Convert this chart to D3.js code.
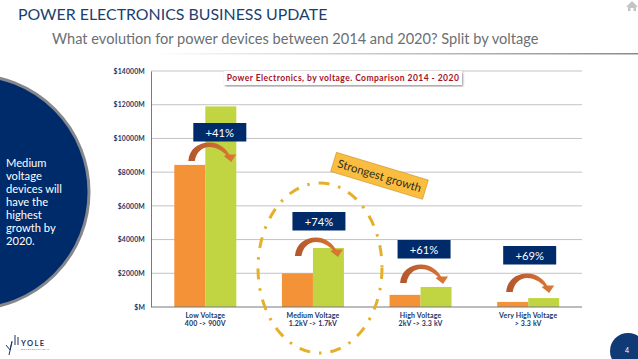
<!DOCTYPE html>
<html>
<head>
<meta charset="utf-8">
<script src="https://cdn.jsdelivr.net/npm/d3@7"></script>
<style>
  html, body { margin: 0; padding: 0; background: #fff; overflow: hidden; }
  text { font-family: Lato, "Open Sans", sans-serif; }
  .tick-label { font-weight: 700; fill: #1c3565; font-size: 6.8px; }
  .cat-label { font-weight: 700; fill: #1c3565; font-size: 7px; letter-spacing: 0.15px; }
</style>
</head>
<body>
<div id="chart"></div>
<script>
// data
const categories = ['Low Voltage', 'Medium Voltage', 'High Voltage', 'Very High Voltage'];
const subLabels = ['400 -> 900V', '1.2kV -> 1.7kV', '2kV -> 3.3 kV', '> 3.3 kV'];
const values2014 = [8430, 2000, 720, 300];
const values2020 = [11900, 3500, 1190, 530];
const growthLabels = ['+41%', '+74%', '+61%', '+69%'];
const yTicks = [0, 2000, 4000, 6000, 8000, 10000, 12000, 14000];
const sideText = ['Medium', 'voltage', 'devices will', 'have the', 'highest', 'growth by', '2020.'];

const NAVY = '#002b6b';
const ORANGE = '#f39237';
const GREEN = '#c1d542';
const WIDTH = 638;
const HEIGHT = 359;

const $svg = d3.select('#chart').append('svg')
  .attr('width', WIDTH)
  .attr('height', HEIGHT)
  .style('display', 'block');

const $defs = $svg.append('defs');
const ruleGrad = $defs.append('linearGradient').attr('id', 'rule');
ruleGrad.append('stop').attr('offset', '0').attr('stop-color', '#fff');
ruleGrad.append('stop').attr('offset', '1').attr('stop-color', '#8a8a8a');
const arrowGrad = $defs.append('linearGradient').attr('id', 'arrow');
arrowGrad.append('stop').attr('offset', '0').attr('stop-color', '#b2562c');
arrowGrad.append('stop').attr('offset', '1').attr('stop-color', '#dc7a35');
const shadow = $defs.append('filter').attr('id', 'shadow');
shadow.append('feDropShadow')
  .attr('dx', 1).attr('dy', 1.5).attr('stdDeviation', 0.8)
  .attr('flood-color', '#000').attr('flood-opacity', 0.4);

// header
$svg.append('text').attr('x', 18).attr('y', 20)
  .attr('font-size', 15.9).attr('fill', '#1b3f6e')
  .text('POWER ELECTRONICS BUSINESS UPDATE');
$svg.append('text').attr('x', 52).attr('y', 44)
  .attr('font-size', 14.6).attr('fill', '#6b6f73')
  .text('What evolution for power devices between 2014 and 2020? Split by voltage');
$svg.append('rect').attr('x', 150).attr('y', 53).attr('width', 488).attr('height', 1.5)
  .attr('fill', 'url(#rule)');

// home icon
$svg.append('path')
  .attr('d', 'M632 1 L638 7 L636 7 L636 11 L633.5 11 L633.5 8 L630.5 8 L630.5 11 L628 11 L628 7 L626 7 Z')
  .attr('fill', '#c4c4c4');

// side circle
$svg.append('circle')
  .attr('cx', -28).attr('cy', 192).attr('r', 117)
  .attr('fill', NAVY).attr('stroke', '#85878c').attr('stroke-width', 3);
$svg.append('g').selectAll('text').data(sideText).join('text')
  .attr('x', 6)
  .attr('y', (d, i) => 167 + i * 13)
  .attr('font-size', 11.2)
  .attr('fill', '#fff')
  .text(d => d);

// scales
const margin = { left: 151.5, right: 582, top: 71, bottom: 307 };
const scaleX = d3.scaleBand().domain(categories).range([margin.left, margin.right]);
const scaleSeries = d3.scaleBand().domain([0, 1]).range([0, 62]);
const scaleY = d3.scaleLinear().domain([0, 14000]).range([margin.bottom, margin.top]);
const groupLeft = d => scaleX(d) + scaleX.bandwidth() / 2 - 31;

// grid + y axis
const axisY = d3.axisLeft(scaleY)
  .tickValues(yTicks)
  .tickSize(0)
  .tickPadding(6)
  .tickFormat(d => `$${d === 0 ? '' : d}M`);
const $axis = $svg.append('g')
  .attr('transform', `translate(${margin.left - 0.5},0)`)
  .call(axisY);
$axis.select('.domain').attr('stroke', '#77797d').attr('stroke-width', 1);
$axis.selectAll('text')
  .attr('class', 'tick-label')
  .attr('font-family', null)
  .style('letter-spacing', '0.2px');

$svg.append('g').selectAll('line').data(yTicks.filter(d => d > 0)).join('line')
  .attr('x1', margin.left)
  .attr('x2', margin.right)
  .attr('y1', d => scaleY(d))
  .attr('y2', d => scaleY(d))
  .attr('stroke', '#66686c')
  .attr('stroke-width', 0.8)
  .attr('stroke-dasharray', '1 1');

// bars
const $group = $svg.append('g').selectAll('g').data(categories).join('g')
  .attr('transform', d => `translate(${groupLeft(d)},0)`);
$group.append('rect')
  .attr('x', scaleSeries(0))
  .attr('width', scaleSeries.bandwidth())
  .attr('y', (d, i) => scaleY(values2014[i]))
  .attr('height', (d, i) => scaleY(0) - scaleY(values2014[i]))
  .attr('fill', ORANGE);
$group.append('rect')
  .attr('x', scaleSeries(1))
  .attr('width', scaleSeries.bandwidth())
  .attr('y', (d, i) => scaleY(values2020[i]))
  .attr('height', (d, i) => scaleY(0) - scaleY(values2020[i]))
  .attr('fill', GREEN);

// baseline
$svg.append('line')
  .attr('x1', margin.left).attr('x2', margin.right)
  .attr('y1', margin.bottom).attr('y2', margin.bottom)
  .attr('stroke', '#77797d').attr('stroke-width', 1);

// category labels
$group.append('text')
  .attr('class', 'cat-label')
  .attr('x', 31).attr('y', 318).attr('text-anchor', 'middle')
  .text(d => d);
$group.append('text')
  .attr('class', 'cat-label')
  .attr('x', 31).attr('y', 325.5).attr('text-anchor', 'middle')
  .text((d, i) => subLabels[i]);

// growth arrows, placement per group
const arrowDx = [14, 13, 10.5, 9];
const arrowBase = [161, 256, 283, 292];
$group.append('path')
  .attr('transform', (d, i) => `translate(${arrowDx[i]},${arrowBase[i]})`)
  .attr('d', 'M0 0 C1 -12 10 -18.5 21 -18.5 C31 -18.5 38 -12 41 -6.5 L48 -6.5 L43 1 L35.5 -5 L38 -6 C33 -11 27 -14 21 -14 C14 -14 8 -9 6.5 0 Z')
  .attr('fill', 'url(#arrow)');

// growth boxes, offset from the group centre
const boxY = [123, 212, 240, 246];
const boxDx = [14.5, 6, 3.5, 1.5];
$group.append('rect')
  .attr('x', (d, i) => 31 - 26.5 + boxDx[i])
  .attr('y', (d, i) => boxY[i])
  .attr('width', 53)
  .attr('height', 18.5)
  .attr('fill', NAVY);
$group.append('text')
  .attr('x', (d, i) => 31 + boxDx[i])
  .attr('y', (d, i) => boxY[i] + 13.5)
  .attr('text-anchor', 'middle')
  .attr('font-size', 11.2)
  .attr('fill', '#fff')
  .text((d, i) => growthLabels[i]);

// chart title box
$svg.append('rect')
  .attr('x', 224).attr('y', 71).attr('width', 238).attr('height', 14)
  .attr('fill', '#fff').attr('filter', 'url(#shadow)');
$svg.append('text')
  .attr('x', 343).attr('y', 81).attr('text-anchor', 'middle')
  .attr('font-size', 8.5).attr('font-weight', 700).attr('fill', '#a5121f')
  .style('letter-spacing', '0.45px')
  .text('Power Electronics, by voltage. Comparison 2014 - 2020');

// highlight ellipse
$svg.append('ellipse')
  .attr('cx', 320).attr('cy', 268).attr('rx', 62).attr('ry', 85)
  .attr('fill', 'none')
  .attr('stroke', '#e4b02a').attr('stroke-width', 3)
  .attr('stroke-dasharray', '11 9 2.5 9');

// strongest growth tag
const $tag = $svg.append('g').attr('transform', 'translate(379.5,175.8) rotate(16.8)');
$tag.append('rect')
  .attr('x', -48).attr('y', -10).attr('width', 96).attr('height', 20)
  .attr('fill', '#fbbd3f').attr('stroke', '#c9962c').attr('stroke-width', 0.6);
$tag.append('text')
  .attr('y', 4).attr('text-anchor', 'middle')
  .attr('font-size', 11.5).attr('fill', '#2f2d22')
  .text('Strongest growth');

// page number
$svg.append('circle').attr('cx', 628).attr('cy', 351).attr('r', 18).attr('fill', '#0f3a75');
$svg.append('text').attr('x', 627).attr('y', 353).attr('text-anchor', 'middle')
  .attr('font-size', 7).attr('fill', '#fff').text('4');

// logo
$svg.append('text').attr('x', 21).attr('y', 345.5)
  .attr('font-size', 7.5).attr('font-weight', 700).attr('fill', '#1c3565')
  .style('letter-spacing', '1.4px').text('YOLE');
$svg.append('text').attr('x', 21).attr('y', 349.5)
  .attr('font-size', 2.6).attr('fill', '#5a6478')
  .style('letter-spacing', '0.5px').text('DÉVELOPPEMENT');
$svg.append('path')
  .attr('d', 'M6 345 L10 350 L12 341 M15 335 L15 345 M18 337 L18 345 M12 342 L9 355')
  .attr('fill', 'none').attr('stroke', '#1c3565').attr('stroke-width', 1);
</script>
</body>
</html>
